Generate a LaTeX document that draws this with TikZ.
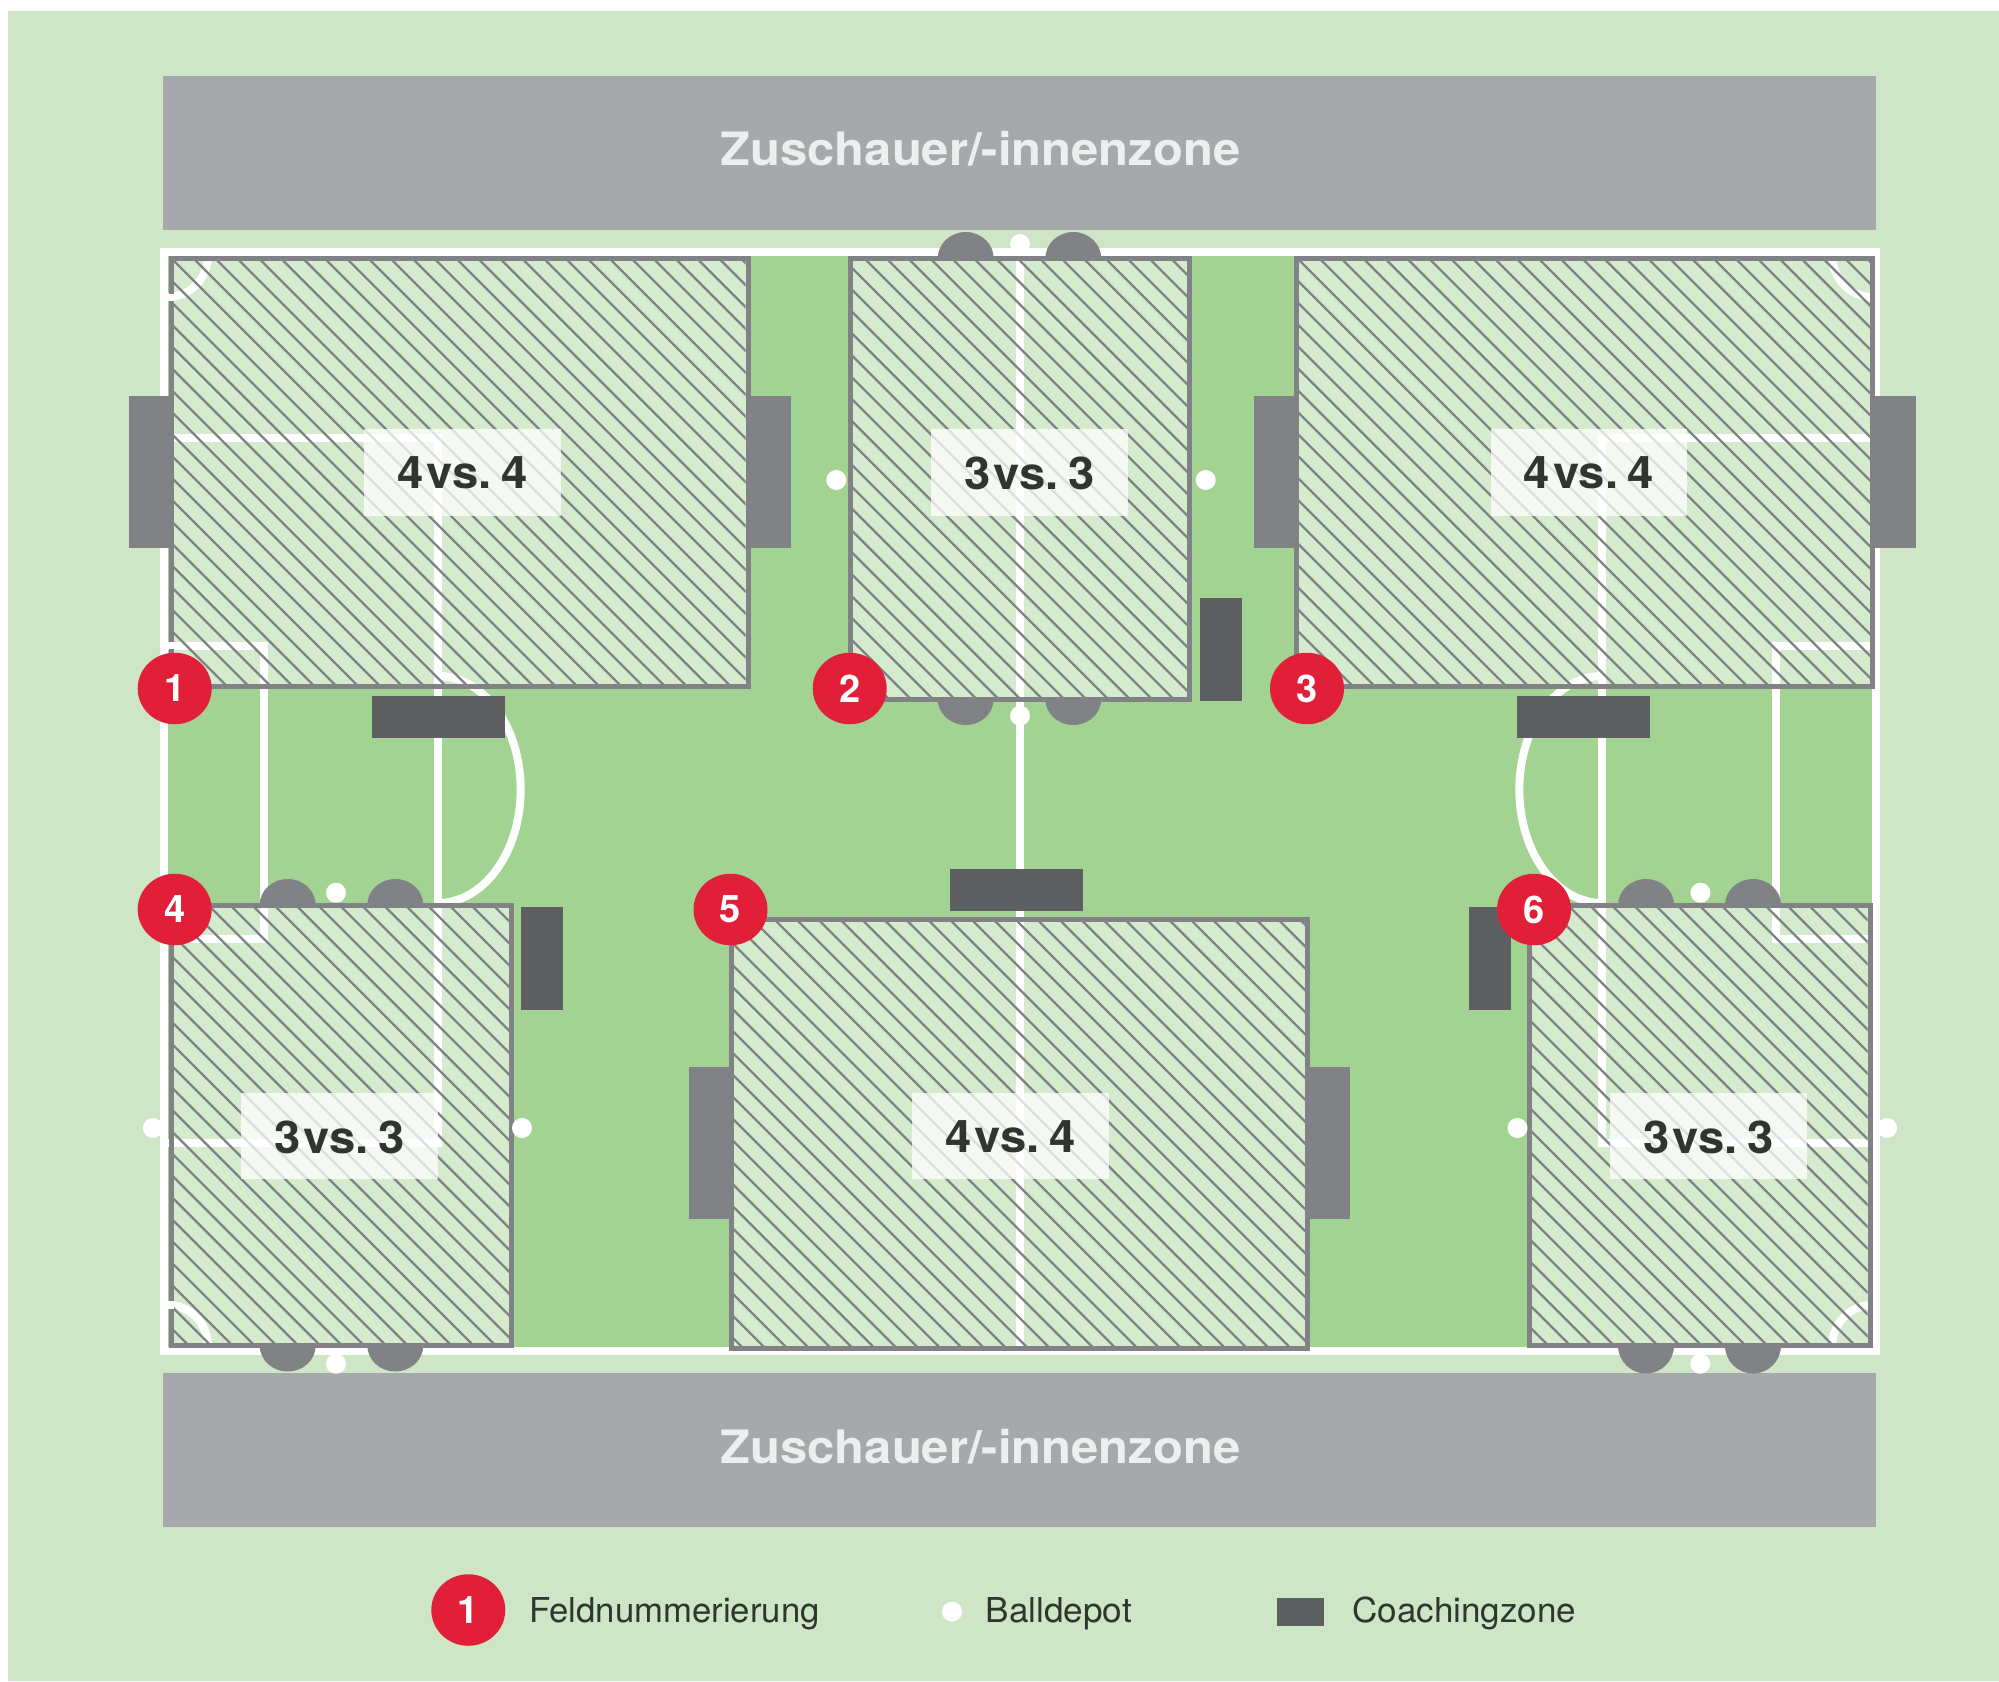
\documentclass[tikz,border=0pt]{standalone}
\usepackage{fontspec}
\usepackage{graphicx}
\setmainfont{TeX Gyre Heros}
\usetikzlibrary{shapes.geometric}
\definecolor{bgpale}{HTML}{CEE6C5}
\definecolor{grass}{HTML}{A3D393}
\definecolor{band}{HTML}{A7A8AB}
\definecolor{mat}{HTML}{818286}
\definecolor{coach}{HTML}{5E5F61}
\definecolor{numred}{HTML}{E11F39}
\definecolor{ink}{HTML}{2F352F}
\definecolor{bandtext}{HTML}{EDEEEE}
\tikzset{
  bandbox/.style={fill=band},
  matbox/.style={fill=mat},
  coachbox/.style={fill=coach},
  ball/.style={fill=white},
  pitchline/.style={draw=white,line width=8pt},
  fieldwash/.style={fill=white,fill opacity=0.55},
  fieldedge/.style={draw=mat,line width=5pt},
  hatchline/.style={draw=mat,line width=2.3pt},
  labelbox/.style={fill=white,opacity=0.74},
  vslabel/.style={inner sep=0pt,text=ink,font=\fontsize{45}{45}\selectfont\bfseries},
  bandlabel/.style={inner sep=0pt,anchor=base,text=bandtext,font=\fontsize{46}{46}\selectfont\bfseries},
  legendlabel/.style={inner sep=0pt,anchor=base west,text=ink,font=\fontsize{34.3}{34.3}\selectfont},
  numdisc/.style={ellipse,fill=numred,minimum width=74pt,minimum height=71.5pt,inner sep=0pt,text=white,font=\fontsize{38}{38}\selectfont\bfseries},
}
% hatching of a field: x1 y1 x2 y2 (inner rectangle), then a point on one hatch line
\newcommand{\hatchfield}[6]{%
  \begin{scope}
    \clip (#1,#2) rectangle (#3,#4);
    \foreach \k in {-60,...,60}{
      \draw[hatchline] ({#5+\k*21.9-600},{#6-600}) -- ({#5+\k*21.9+600},{#6+600});
    }
  \end{scope}}
\newcommand{\halfup}[3]{\fill[matbox] ({#1-28},#2) arc[start angle=180,end angle=360,x radius=28,y radius=#3] -- cycle;}
\newcommand{\halfdown}[3]{\fill[matbox] ({#1-28},#2) arc[start angle=180,end angle=0,x radius=28,y radius=#3] -- cycle;}
\newcommand{\vslab}[2]{\scalebox{1.05}[1]{#1\kern3pt vs.\kern9pt #2}}
\begin{document}
\begin{tikzpicture}[x=1pt,y=-1pt]
\useasboundingbox (0,0) rectangle (1999,1681);
\fill[white] (0,0) rectangle (1999,1681);
\fill[bgpale] (8,11) rectangle (1999,1681);
% spectator zones
\fill[bandbox] (163,76) rectangle (1876,230);
\fill[bandbox] (163,1373) rectangle (1876,1527);
\node[bandlabel] (zoneA) at (980.5,165.5) {\scalebox{1.065}[1]{Zuschauer/-innenzone}};
\node[bandlabel] (zoneB) at (980.5,1463) {\scalebox{1.065}[1]{Zuschauer/-innenzone}};
% grass
\fill[grass] (164,251.5) rectangle (1876,1351);
% field washes
\fill[fieldwash] (171.5,258) rectangle (748,686.5);
\fill[fieldwash] (850,258.5) rectangle (1189.5,699);
\fill[fieldwash] (1296,258) rectangle (1872.5,686.5);
\fill[fieldwash] (171.5,905) rectangle (511.5,1345.5);
\fill[fieldwash] (731.6,919.5) rectangle (1307.4,1348);
\fill[fieldwash] (1529.5,905) rectangle (1870,1345.5);
% pitch lines
\draw[pitchline] (164,251.5) rectangle (1876,1351);
\draw[pitchline] (1020,251.5) -- (1020,1351);
\draw[pitchline] (168,438) -- (442,438);
\draw[pitchline] (438,438) -- (438,1147);
\draw[pitchline] (168,1143) -- (442,1143);
\draw[pitchline] (1872,438) -- (1598,438);
\draw[pitchline] (1602,438) -- (1602,1147);
\draw[pitchline] (1872,1143) -- (1598,1143);
\draw[pitchline] (168,645.5) -- (268,645.5);
\draw[pitchline] (264,645.5) -- (264,939);
\draw[pitchline] (168,939) -- (268,939);
\draw[pitchline] (1872,645.5) -- (1772,645.5);
\draw[pitchline] (1776,645.5) -- (1776,939);
\draw[pitchline] (1872,939) -- (1772,939);
\draw[pitchline] (438,676) arc[start angle=-90,end angle=90,x radius=82.7,y radius=113.5];
\draw[pitchline] (1602,676) arc[start angle=270,end angle=90,x radius=82.7,y radius=113.5];
\draw[pitchline] (208,255) arc[start angle=0,end angle=90,x radius=40,y radius=42];
\draw[pitchline] (1832,255) arc[start angle=180,end angle=90,x radius=40,y radius=42];
\draw[pitchline] (208,1347) arc[start angle=0,end angle=-90,x radius=40,y radius=42];
\draw[pitchline] (1832,1347) arc[start angle=180,end angle=270,x radius=40,y radius=42];
% goal mats
\fill[matbox] (129,396) rectangle (174,548);
\fill[matbox] (746,396) rectangle (791,548);
\fill[matbox] (1254,396) rectangle (1299,548);
\fill[matbox] (1870,396) rectangle (1916,548);
\fill[matbox] (689,1067) rectangle (734,1219);
\fill[matbox] (1305,1067) rectangle (1350,1219);
% goals
\halfup{965.7}{258.5}{26.5}\halfup{1073.3}{258.5}{26.5}
\halfdown{965.7}{699}{26}\halfdown{1073.3}{699}{26}
\halfup{287.7}{905}{26}\halfup{395.3}{905}{26}
\halfdown{287.7}{1345.5}{26}\halfdown{395.3}{1345.5}{26}
\halfup{1646}{905}{26}\halfup{1753}{905}{26}
\halfdown{1646}{1345.5}{28}\halfdown{1753}{1345.5}{28}
% field edges
\draw[fieldedge] (171.5,258) rectangle (748,686.5);
\draw[fieldedge] (850,258.5) rectangle (1189.5,699);
\draw[fieldedge] (1296,258) rectangle (1872.5,686.5);
\draw[fieldedge] (171.5,905) rectangle (511.5,1345.5);
\draw[fieldedge] (731.6,919.5) rectangle (1307.4,1348);
\draw[fieldedge] (1529.5,905) rectangle (1870,1345.5);
% where the pitch lines cross the left edge
\fill[white] (168,294) rectangle (174,301);
\fill[white] (168,642) rectangle (174,649);
\fill[white] (168,1301) rectangle (174,1309);
% hatching
\hatchfield{174}{260.5}{745.5}{684}{174}{261}
\hatchfield{852.5}{261}{1187}{696.5}{867}{261}
\hatchfield{1298.5}{260.5}{1870}{684}{1504}{684}
\hatchfield{174}{907.5}{509}{1343}{254}{907}
\hatchfield{734.1}{922}{1304.9}{1345.5}{777}{922}
\hatchfield{1532}{907.5}{1867.5}{1343}{1613.5}{907}
% balls
\foreach \bx/\by in {1020/244,1020/715.7,836.3/480,1205.7/480,336/892.7,336/1363.7,153/1128,522/1128,1700.4/892.7,1700.3/1363.7,1517.5/1128,1887/1128,952/1611.7}{
  \fill[ball] (\bx,\by) circle[radius=10];
}
% coaching zones
\fill[coachbox] (372,696) rectangle (505,738);
\fill[coachbox] (1517,696) rectangle (1650,738);
\fill[coachbox] (1200,598) rectangle (1242,701);
\fill[coachbox] (521,907) rectangle (563,1010);
\fill[coachbox] (1469,907) rectangle (1511,1010);
\fill[coachbox] (950,869) rectangle (1083,911);
% labels
\fill[labelbox] (364,429) rectangle (561,516);
\fill[labelbox] (931,429) rectangle (1128,516);
\fill[labelbox] (1490.5,429) rectangle (1687,516);
\fill[labelbox] (241,1092.5) rectangle (437.5,1179);
\fill[labelbox] (912,1092.5) rectangle (1109,1179);
\fill[labelbox] (1610,1092.5) rectangle (1807,1179);
\node[vslabel] (lab1) at (462.5,473) {\vslab{4}{4}};
\node[vslabel] (lab2) at (1029.5,473) {\vslab{3}{3}};
\node[vslabel] (lab3) at (1589,473) {\vslab{4}{4}};
\node[vslabel] (lab4) at (339.5,1137) {\vslab{3}{3}};
\node[vslabel] (lab5) at (1010.5,1137) {\vslab{4}{4}};
\node[vslabel] (lab6) at (1708.5,1137) {\vslab{3}{3}};
% field numbers
\node[numdisc] (n1) at (174.7,688.5) {1};
\node[numdisc] (n2) at (849.7,688.5) {2};
\node[numdisc] (n3) at (1307,688.5) {3};
\node[numdisc] (n4) at (174.7,909.5) {4};
\node[numdisc] (n5) at (730.5,909.5) {5};
\node[numdisc] (n6) at (1534,909.5) {6};
% legend
\node[numdisc] (legnum) at (468.3,1610) {1};
\node[legendlabel] (leg1) at (529,1622.7) {\scalebox{1.012}[1]{Feldnummerierung}};
\node[legendlabel] (leg2) at (985.5,1622.7) {\scalebox{1.025}[1]{Balldepot}};
\fill[coachbox] (1277,1597.5) rectangle (1324,1626);
\node[legendlabel] (leg3) at (1352,1622.7) {\scalebox{1.022}[1]{Coachingzone}};
\end{tikzpicture}
\end{document}
